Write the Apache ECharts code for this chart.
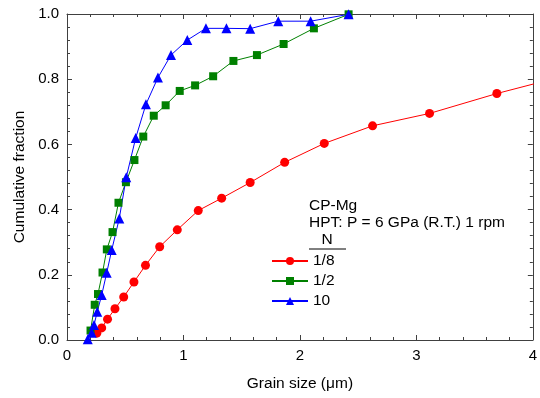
<!DOCTYPE html>
<html>
<head>
<meta charset="utf-8">
<script src="https://cdn.jsdelivr.net/npm/echarts@6/dist/echarts.min.js"></script>
<style>
  html, body { margin: 0; padding: 0; background: #fff; }
  #chart { width: 540px; height: 398px; }
</style>
</head>
<body>
<div id="chart"></div>
<script>
// grain size (um) and cumulative fraction
const redX = [0.256, 0.298, 0.348, 0.412, 0.487, 0.575, 0.674, 0.796, 0.947, 1.127, 1.328, 1.573, 1.869, 2.209, 2.624, 3.113, 3.691, 4.4];
const redY = [0.021, 0.037, 0.064, 0.096, 0.132, 0.178, 0.229, 0.286, 0.338, 0.397, 0.435, 0.483, 0.545, 0.603, 0.657, 0.695, 0.756, 0.822];

const greenX = [0.202, 0.238, 0.266, 0.305, 0.342, 0.391, 0.442, 0.506, 0.579, 0.655, 0.745, 0.847, 0.968, 1.100, 1.255, 1.429, 1.631, 1.860, 2.120, 2.418];
const greenY = [0.029, 0.108, 0.141, 0.207, 0.278, 0.331, 0.421, 0.484, 0.552, 0.624, 0.688, 0.720, 0.764, 0.781, 0.809, 0.856, 0.874, 0.908, 0.956, 0.999];

const blueX = [0.178, 0.212, 0.232, 0.260, 0.298, 0.341, 0.384, 0.449, 0.509, 0.590, 0.678, 0.781, 0.893, 1.033, 1.193, 1.369, 1.573, 1.814, 2.092, 2.418];
const blueY = [0.002, 0.022, 0.046, 0.087, 0.138, 0.206, 0.276, 0.373, 0.499, 0.620, 0.723, 0.805, 0.874, 0.920, 0.956, 0.956, 0.955, 0.978, 0.978, 0.999];

const seriesNames = ['1/8', '1/2', '10'];
const titleLines = ['CP-Mg', 'HPT: P = 6 GPa (R.T.) 1 rpm'];

const font = 'Arial, "Liberation Sans", sans-serif';
const axisColor = '#404040';

const zip = (xs, ys) => xs.map((x, i) => [x, ys[i]]);

const chart = echarts.init(document.getElementById('chart'));

const baseAxis = {
  axisLine: { show: true, onZero: false, lineStyle: { color: axisColor, width: 1 } },
  axisTick: { show: true, inside: true, length: 5, lineStyle: { color: axisColor } },
  minorTick: { show: true, splitNumber: 5, length: 3, lineStyle: { color: axisColor } },
  splitLine: { show: false },
};

const option = {
  animation: false,
  grid: { left: 67, right: 7, top: 14, bottom: 58 },
  xAxis: [
    {
      ...baseAxis,
      type: 'value', min: 0, max: 4, interval: 1,
      name: 'Grain size (μm)', nameLocation: 'middle', nameGap: 36,
      nameTextStyle: { fontFamily: font, fontSize: 15.5, color: '#000' },
      axisLabel: { margin: 8, fontFamily: font, fontSize: 15, color: '#000' },
    },
    {
      ...baseAxis,
      type: 'value', min: 0, max: 4, interval: 1, position: 'top',
      axisLabel: { show: false },
    },
  ],
  yAxis: [
    {
      ...baseAxis,
      type: 'value', min: 0, max: 1, interval: 0.2,
      name: 'Cumulative fraction', nameLocation: 'middle', nameGap: 38,
      nameTextStyle: { fontFamily: font, fontSize: 15.5, color: '#000' },
      axisLabel: {
        margin: 8, fontFamily: font, fontSize: 15, color: '#000',
        formatter: v => v.toFixed(1),
      },
    },
    {
      ...baseAxis,
      type: 'value', min: 0, max: 1, interval: 0.2, position: 'right',
      axisLabel: { show: false },
    },
  ],
  legend: {
    orient: 'vertical',
    left: 271,
    top: 253,
    padding: 0,
    itemWidth: 36,
    itemHeight: 10,
    itemGap: 4,
    textStyle: { fontFamily: font, fontSize: 15.5, color: '#000' },
    data: seriesNames,
  },
  graphic: [
    {
      type: 'text', left: 309, top: 198,
      style: { text: titleLines[0], font: '15.5px ' + font, fill: '#000' },
    },
    {
      type: 'text', left: 309, top: 215,
      style: { text: titleLines[1], font: '15.5px ' + font, fill: '#000' },
    },
    {
      type: 'text', left: 321.5, top: 232,
      style: { text: 'N', font: '15.5px ' + font, fill: '#000' },
    },
    {
      type: 'line',
      shape: { x1: 309, y1: 249, x2: 346, y2: 249 },
      style: { stroke: '#000', lineWidth: 1 },
    },
  ],
  series: [
    {
      name: seriesNames[0], type: 'line', data: zip(redX, redY),
      symbol: 'circle', symbolSize: 9,
      itemStyle: { color: '#ff0000' },
      lineStyle: { color: '#ff0000', width: 1 },
    },
    {
      name: seriesNames[1], type: 'line', data: zip(greenX, greenY),
      symbol: 'rect', symbolSize: 8,
      itemStyle: { color: '#008000' },
      lineStyle: { color: '#008000', width: 1 },
    },
    {
      name: seriesNames[2], type: 'line', data: zip(blueX, blueY),
      symbol: 'triangle', symbolSize: 10,
      itemStyle: { color: '#0000ff' },
      lineStyle: { color: '#0000ff', width: 1 },
    },
  ],
};

chart.setOption(option);
</script>
</body>
</html>
